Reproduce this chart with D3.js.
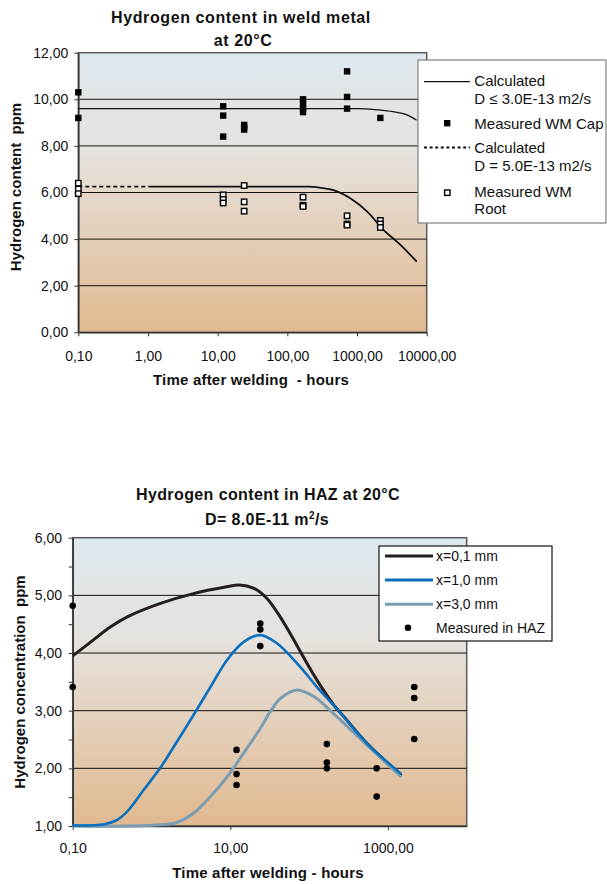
<!DOCTYPE html>
<html><head><meta charset="utf-8">
<script src="https://cdn.jsdelivr.net/npm/d3@7/dist/d3.min.js"></script>
<style>
body{margin:0;background:#fff;}
svg text{font-family:"Liberation Sans",Arial,sans-serif;}
</style></head>
<body><svg id="c" width="607" height="884"></svg>
<script>
// ---------- DATA: weld metal chart ----------
const wmTicksX = [0.1, 1, 10, 100, 1000, 10000];
const wmTicksY = [0, 2, 4, 6, 8, 10, 12];
const capT = [0.1, 0.1, 12, 12, 12, 24, 24, 24, 168, 168, 168, 168, 720, 720, 720, 2160];
const capH = [10.3, 9.2, 9.7, 9.3, 8.4, 8.9, 8.8, 8.7, 10.0, 9.8, 9.6, 9.45, 11.2, 10.1, 9.6, 9.2];
const rootT = [0.1, 0.1, 0.1, 12, 12, 12, 24, 24, 24, 168, 168, 168, 720, 720, 720, 2160, 2160, 2160];
const rootH = [6.4, 6.15, 5.95, 5.9, 5.7, 5.55, 6.3, 5.6, 5.2, 5.8, 5.45, 5.4, 5.0, 4.65, 4.6, 4.8, 4.65, 4.5];
const calc1T = [0.1, 1000, 2000, 3300, 5200, 7200];
const calc1H = [9.6, 9.6, 9.55, 9.47, 9.33, 9.1];
const calc2T = [0.1, 200, 300, 460, 800, 1400, 2400, 4200, 7200];
const calc2H = [6.25, 6.25, 6.2, 6.1, 5.75, 5.18, 4.4, 3.75, 3.03];
const wmLegend = ["Calculated|D \u2264 3.0E-13 m2/s", "Measured WM Cap", "Calculated|D = 5.0E-13 m2/s", "Measured WM|Root"];

// ---------- DATA: HAZ chart ----------
const hazTicksX = [0.1, 10, 1000];
const hazTicksY = [1, 1.5, 2, 2.5, 3, 3.5, 4, 4.5, 5, 5.5, 6];
const hazT = [0.1, 0.1, 12, 12, 12, 24, 24, 24, 168, 168, 168, 720, 720, 2160, 2160, 2160];
const hazH = [4.82, 3.41, 2.32, 1.90, 1.71, 4.51, 4.41, 4.12, 2.42, 2.10, 2.00, 2.00, 1.51, 3.41, 3.22, 2.51];
const x01T = [0.1, 0.18, 0.3, 0.5, 1.3, 3.4, 9, 13, 20, 29, 41, 58, 77, 126, 205, 300, 545, 1480];
const x01H = [3.95, 4.22, 4.45, 4.63, 4.86, 5.03, 5.15, 5.18, 5.12, 4.95, 4.67, 4.33, 4.03, 3.53, 3.10, 2.84, 2.43, 1.88];
const x10T = [0.1, 0.25, 0.36, 0.49, 0.79, 1.28, 2.1, 3.4, 5.6, 9.1, 14.7, 24, 39, 77, 126, 236, 544, 1480];
const x10H = [1.01, 1.03, 1.10, 1.25, 1.62, 2.0, 2.46, 2.92, 3.41, 3.88, 4.19, 4.31, 4.17, 3.76, 3.41, 3.0, 2.43, 1.90];
const x30T = [0.1, 0.5, 1.3, 2.1, 3.4, 5.6, 9.1, 14.7, 24, 32, 43, 70, 114, 204, 249, 544, 1480];
const x30H = [1.0, 1.0, 1.02, 1.06, 1.22, 1.51, 1.85, 2.26, 2.69, 2.98, 3.21, 3.36, 3.25, 2.95, 2.84, 2.40, 1.85];
const hazLegend = ["x=0,1 mm", "x=1,0 mm", "x=3,0 mm", "Measured in HAZ"];

const comma = d3.format(".2f");
const fmt = v => comma(v).replace(".", ",");
const svg = d3.select("#c");
const defs = svg.append("defs");
function grad(id){
  const g = defs.append("linearGradient").attr("id", id).attr("x1",0).attr("y1",0).attr("x2",0).attr("y2",1);
  g.append("stop").attr("offset","0%").attr("stop-color","#dde8ef");
  g.append("stop").attr("offset","35%").attr("stop-color","#e6e2de");
  g.append("stop").attr("offset","100%").attr("stop-color","#e1b98f");
}
grad("g1"); grad("g2");
const zip = (a,b) => a.map((t,i)=>[t,b[i]]);

// ================= TOP CHART =================
{
  const x = d3.scaleLog().domain([0.1, 10000]).range([78.3, 426.7]);
  const y = d3.scaleLinear().domain([0, 12]).range([332.3, 52.7]);
  const g = svg.append("g");
  g.append("rect").attr("x", x(0.1)).attr("y", y(12)).attr("width", x(10000)-x(0.1)).attr("height", y(0)-y(12))
    .attr("fill","url(#g1)").attr("stroke","#5a5a5a").attr("stroke-width",1.5);
  g.selectAll(".grid").data(wmTicksY.filter(v=>v>0 && v<12)).join("line")
    .attr("x1", x(0.1)).attr("x2", x(10000)).attr("y1", d=>y(d)).attr("y2", d=>y(d))
    .attr("stroke","#111").attr("stroke-width",1);
  const ax = g.append("g").attr("transform",`translate(0,${y(0)})`)
    .call(d3.axisBottom(x).tickValues(wmTicksX).tickFormat(fmt).tickSize(4).tickSizeOuter(0).tickPadding(14.5));
  const ay = g.append("g").attr("transform",`translate(${x(0.1)},0)`)
    .call(d3.axisLeft(y).tickValues(wmTicksY).tickFormat(fmt).tickSize(4).tickSizeOuter(0).tickPadding(6));
  [ax, ay].forEach(a => {
    a.select(".domain").attr("stroke","#333").attr("stroke-width",1.5);
    a.selectAll(".tick line").attr("stroke","#333");
    a.selectAll("text").attr("font-size",14).attr("fill","#111").attr("font-family","Liberation Sans, Arial");
  });
  const line = d3.line().x(d=>x(d[0])).y(d=>y(d[1])).curve(d3.curveMonotoneX);
  g.append("path").attr("d", line(zip(calc1T, calc1H))).attr("fill","none").attr("stroke","#111").attr("stroke-width",1.3);
  const c2 = zip(calc2T, calc2H);
  g.append("path").attr("d", line(c2)).attr("fill","none").attr("stroke","#111").attr("stroke-width",1.8)
    .attr("stroke-dasharray","4,3,4,3,4,3,4,3,4,3,4,3,4,3,4,3,4,3,4,3,1000");
  g.selectAll(".cap").data(zip(capT, capH)).join("rect")
    .attr("x", d=>x(d[0])-3.2).attr("y", d=>y(d[1])-3.2).attr("width",6.4).attr("height",6.4).attr("fill","#000");
  g.selectAll(".root").data(zip(rootT, rootH)).join("rect")
    .attr("x", d=>x(d[0])-2.7).attr("y", d=>y(d[1])-2.7).attr("width",5.4).attr("height",5.4)
    .attr("fill","#fff").attr("stroke","#000").attr("stroke-width",1.4);
  const tt = g.append("text").attr("font-weight","bold").attr("font-size",16).attr("letter-spacing",0.6).attr("text-anchor","middle").attr("fill","#111");
  tt.append("tspan").attr("x",241).attr("y",22.7).text("Hydrogen content in weld metal");
  tt.append("tspan").attr("x",243).attr("y",46).text("at 20\u00b0C");
  g.append("text").attr("x",251).attr("y",385).attr("text-anchor","middle").attr("font-weight","bold").attr("font-size",15)
    .attr("letter-spacing",0.2).style("white-space","pre").attr("fill","#111").text("Time after welding  - hours");
  g.append("text").attr("transform","translate(21,187) rotate(-90)").attr("text-anchor","middle").attr("font-weight","bold")
    .attr("font-size",15).style("white-space","pre").attr("fill","#111").text("Hydrogen content  ppm");
  const L = g.append("g");
  L.append("rect").attr("x",418).attr("y",60).attr("width",188).attr("height",163).attr("fill","#fff").attr("stroke","#808080").attr("stroke-width",1.2);
  const rows = [[86,104],[129.3],[153.3,171],[196.7,214.3]];
  wmLegend.forEach((s,i)=>{
    const parts = s.split("|");
    const t = L.append("text").attr("font-size",15).attr("fill","#111");
    parts.forEach((p,j)=> t.append("tspan").attr("x",474.3).attr("y",rows[i][j]).text(p));
  });
  L.append("line").attr("x1",424).attr("x2",470).attr("y1",81.7).attr("y2",81.7).attr("stroke","#111").attr("stroke-width",1.3);
  L.append("rect").attr("x",444).attr("y",120).attr("width",6.4).attr("height",6.4).attr("fill","#000");
  L.append("line").attr("x1",424).attr("x2",470).attr("y1",147.5).attr("y2",147.5).attr("stroke","#111").attr("stroke-width",1.8).attr("stroke-dasharray","3,2.6");
  L.append("rect").attr("x",444.6).attr("y",190).attr("width",5.4).attr("height",5.4).attr("fill","#fff").attr("stroke","#000").attr("stroke-width",1.4);
}

// ================= BOTTOM CHART =================
{
  const x = d3.scaleLog().domain([0.1, 10000]).range([72.7, 466.7]);
  const y = d3.scaleLinear().domain([1, 6]).range([826, 537.7]);
  const g = svg.append("g");
  g.append("rect").attr("x", x(0.1)).attr("y", y(6)).attr("width", x(10000)-x(0.1)).attr("height", y(1)-y(6))
    .attr("fill","url(#g2)").attr("stroke","#5a5a5a").attr("stroke-width",1.5);
  g.selectAll(".grid").data([2,3,4,5]).join("line")
    .attr("x1", x(0.1)).attr("x2", x(10000)).attr("y1", d=>y(d)).attr("y2", d=>y(d))
    .attr("stroke","#111").attr("stroke-width",1);
  const ax = g.append("g").attr("transform",`translate(0,${y(1)})`)
    .call(d3.axisBottom(x).tickValues(hazTicksX).tickFormat(fmt).tickSize(4).tickSizeOuter(0).tickPadding(13.4));
  const ay = g.append("g").attr("transform",`translate(${x(0.1)},0)`)
    .call(d3.axisLeft(y).tickValues(hazTicksY).tickFormat(d=> Number.isInteger(d) ? fmt(d) : "").tickSize(4).tickSizeOuter(0).tickPadding(6.7));
  [ax, ay].forEach(a => {
    a.select(".domain").attr("stroke","#333").attr("stroke-width",1.5);
    a.selectAll(".tick line").attr("stroke","#333");
    a.selectAll("text").attr("font-size",14).attr("fill","#111").attr("font-family","Liberation Sans, Arial");
  });
  const line = d3.line().x(d=>x(d[0])).y(d=>y(d[1])).curve(d3.curveCatmullRom.alpha(0.5));
  g.append("path").attr("d", line(zip(x01T, x01H))).attr("fill","none").attr("stroke","#231f20").attr("stroke-width",3);
  g.append("path").attr("d", line(zip(x30T, x30H))).attr("fill","none").attr("stroke","#7a9db1").attr("stroke-width",3);
  g.append("path").attr("d", line(zip(x10T, x10H))).attr("fill","none").attr("stroke","#0a70be").attr("stroke-width",2.6);
  g.selectAll(".haz").data(zip(hazT, hazH)).join("circle")
    .attr("cx", d=>x(d[0])).attr("cy", d=>y(d[1])).attr("r",3.3).attr("fill","#000");
  const tt = g.append("text").attr("font-weight","bold").attr("font-size",16).attr("letter-spacing",0.4).attr("text-anchor","middle").attr("fill","#111");
  tt.append("tspan").attr("x",268).attr("y",500).text("Hydrogen content in HAZ at 20\u00b0C");
  const t2 = g.append("text").attr("x",267).attr("y",525).attr("font-weight","bold").attr("font-size",16).attr("letter-spacing",0.4).attr("text-anchor","middle").attr("fill","#111");
  t2.append("tspan").text("D= 8.0E-11 m");
  t2.append("tspan").attr("dy",-6).attr("font-size",10).text("2");
  t2.append("tspan").attr("dy",6).text("/s");
  g.append("text").attr("x",268).attr("y",878).attr("text-anchor","middle").attr("font-weight","bold").attr("font-size",15)
    .attr("letter-spacing",0.2).attr("fill","#111").text("Time after welding - hours");
  g.append("text").attr("transform","translate(24.5,682) rotate(-90)").attr("text-anchor","middle").attr("font-weight","bold")
    .attr("font-size",15).style("white-space","pre").attr("fill","#111").text("Hydrogen concentration  ppm");
  const L = g.append("g");
  L.append("rect").attr("x",379).attr("y",546).attr("width",173).attr("height",95).attr("fill","#fff").attr("stroke","#111").attr("stroke-width",1.2);
  const ly = [556, 580, 604.3, 627.7];
  const cols = ["#231f20","#0a70be","#7a9db1"];
  hazLegend.forEach((s,i)=>{
    L.append("text").attr("x",436).attr("y",ly[i]+5).attr("font-size",14).attr("fill","#111").text(s);
    if (i<3) L.append("line").attr("x1",385).attr("x2",433).attr("y1",ly[i]).attr("y2",ly[i]).attr("stroke",cols[i]).attr("stroke-width",3);
    else L.append("circle").attr("cx",408).attr("cy",ly[i]).attr("r",3.3).attr("fill","#000");
  });
}
</script></body></html>
